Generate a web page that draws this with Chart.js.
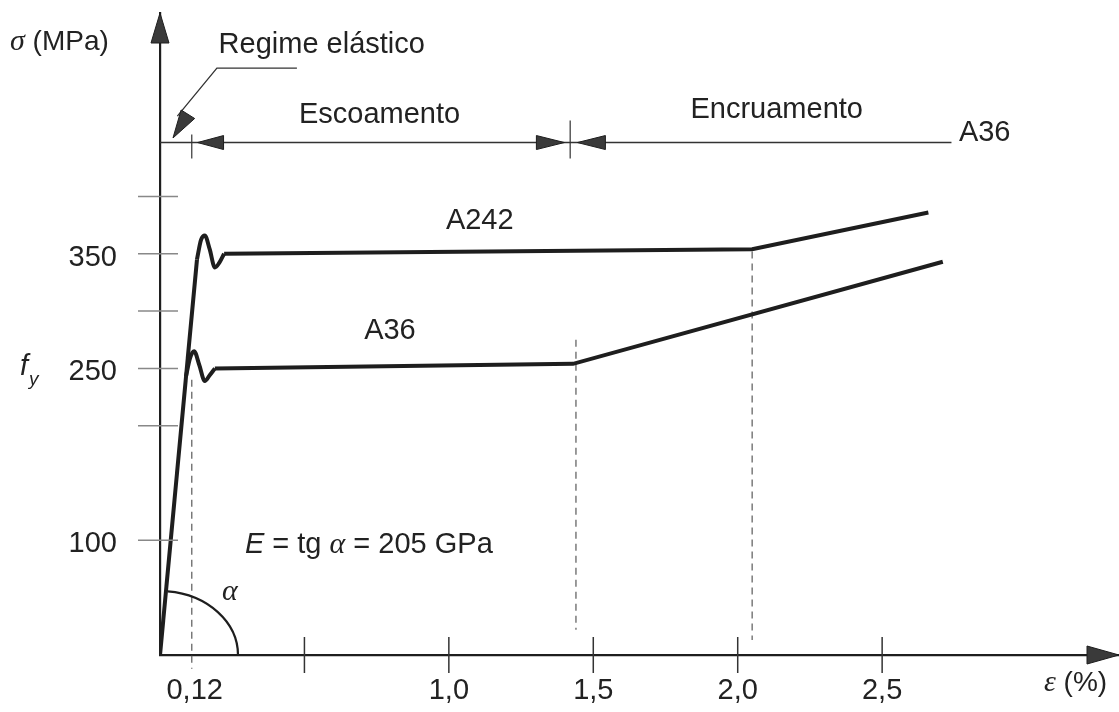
<!DOCTYPE html>
<html>
<head>
  <meta charset="utf-8">
  <title>Diagrama tensão-deformação A36 / A242</title>
  <script src="https://cdn.jsdelivr.net/npm/chart.js"></script>
  <style>
    body { margin: 0; background: #fff; }
  </style>
</head>
<body>
  <canvas id="grafico" width="1119" height="712"></canvas>

  <script>
    // valores (deformação em %, tensão em MPa)
    const elasticoX = [0, 0.128];
    const elasticoY = [0, 345];

    const picoA242X = [0.128, 0.142, 0.155, 0.172, 0.19, 0.205, 0.222];
    const picoA242Y = [345, 362, 366, 354, 338, 342, 350];
    const a242X = [0.222, 2.05, 2.66];
    const a242Y = [350, 354, 386];

    const picoA36X = [0.09, 0.104, 0.118, 0.136, 0.155, 0.172, 0.19];
    const picoA36Y = [243, 259, 265, 253, 239, 244, 250];
    const a36X = [0.19, 1.43, 2.71];
    const a36Y = [250, 254, 343];

    // linhas tracejadas de referência
    const tracejadoX = [0.11, 1.44, 2.05];
    const tracejadoTopo = [240, 275, 352];
    const tracejadoBase = [-12, 22, 13];

    const xTicks = [0.12, 0.5, 1.0, 1.5, 2.0, 2.5];
    const xRotulos = ['0,12', '', '1,0', '1,5', '2,0', '2,5'];
    const yTicks = [100, 200, 250, 300, 350, 400];
    const yRotulos = ['100', '', '250', '', '350', ''];

    const pontos = (xs, ys) => xs.map((v, i) => ({ x: v, y: ys[i] }));
    const FONTE = '"Liberation Sans", Arial, sans-serif';
    const SERIF = '"Liberation Serif", "Times New Roman", serif';
    const COR = '#222';
    const TAM = 29;

    const curva = (label, xs, ys, monotone) => ({
      label: label,
      data: pontos(xs, ys),
      showLine: true,
      borderColor: '#1e1e1e',
      borderWidth: 4,
      pointRadius: 0,
      cubicInterpolationMode: monotone ? 'monotone' : 'default',
      tension: 0
    });

    const datasets = [
      curva('Regime elástico', elasticoX, elasticoY, false),
      curva('A242 pico', picoA242X, picoA242Y, true),
      curva('A242', a242X, a242Y, false),
      curva('A36 pico', picoA36X, picoA36Y, true),
      curva('A36', a36X, a36Y, false)
    ];
    tracejadoX.forEach((v, i) => {
      datasets.push({
        label: 'tracejado ' + i,
        data: [{ x: v, y: tracejadoTopo[i] }, { x: v, y: tracejadoBase[i] }],
        showLine: true,
        borderColor: '#666',
        borderWidth: 1.3,
        borderDash: [7, 5],
        pointRadius: 0,
        clip: false
      });
    });

    function seta(ctx, x0, y0, x1, y1, comp, meia) {
      // triângulo cheio com ponta em (x1, y1), vindo de (x0, y0)
      const a = Math.atan2(y1 - y0, x1 - x0);
      const bx = x1 - comp * Math.cos(a), by = y1 - comp * Math.sin(a);
      ctx.beginPath();
      ctx.moveTo(x1, y1);
      ctx.lineTo(bx + meia * Math.sin(a), by - meia * Math.cos(a));
      ctx.lineTo(bx - meia * Math.sin(a), by + meia * Math.cos(a));
      ctx.closePath();
      ctx.fillStyle = '#3a3a3a';
      ctx.fill();
      ctx.strokeStyle = '#1e1e1e';
      ctx.lineWidth = 1;
      ctx.stroke();
    }

    const anotacoes = {
      id: 'anotacoes',
      afterDraw(chart) {
        const ctx = chart.ctx;
        const sx = chart.scales.x, sy = chart.scales.y;
        const px = v => sx.getPixelForValue(v);
        const py = v => sy.getPixelForValue(v);
        const area = chart.chartArea;
        ctx.save();

        // setas dos eixos
        seta(ctx, area.left, area.bottom, area.left, area.top, 30, 9);
        seta(ctx, area.left, area.bottom, area.right, area.bottom, 32, 9);

        // marcas dos eixos
        ctx.strokeStyle = '#888';
        ctx.lineWidth = 1.5;
        yTicks.forEach(v => {
          ctx.beginPath();
          ctx.moveTo(area.left - 22, py(v));
          ctx.lineTo(area.left + 18, py(v));
          ctx.stroke();
        });
        ctx.strokeStyle = '#333';
        xTicks.slice(1).forEach(v => {
          ctx.beginPath();
          ctx.moveTo(px(v), area.bottom - 18);
          ctx.lineTo(px(v), area.bottom + 18);
          ctx.stroke();
        });

        // cota superior (escoamento / encruamento)
        const yc = py(447);
        ctx.strokeStyle = '#333';
        ctx.lineWidth = 1.6;
        ctx.beginPath();
        ctx.moveTo(area.left, yc);
        ctx.lineTo(px(2.74), yc);
        ctx.stroke();
        ctx.lineWidth = 1.2;
        ctx.beginPath();
        ctx.moveTo(px(0.11), yc - 8); ctx.lineTo(px(0.11), yc + 16);
        ctx.moveTo(px(1.42), yc - 22); ctx.lineTo(px(1.42), yc + 16);
        ctx.stroke();
        seta(ctx, px(0.5), yc, px(0.13), yc, 26, 7);
        seta(ctx, px(1.0), yc, px(1.40), yc, 28, 7);
        seta(ctx, px(2.0), yc, px(1.445), yc, 28, 7);

        // chamada do regime elástico
        ctx.strokeStyle = '#333';
        ctx.lineWidth = 1.3;
        ctx.beginPath();
        ctx.moveTo(px(0.474), py(512));
        ctx.lineTo(px(0.197), py(512));
        ctx.lineTo(px(0.06), py(470));
        ctx.stroke();
        seta(ctx, px(0.197), py(512), px(0.045), py(451), 28, 8);

        // arco do ângulo alfa
        ctx.strokeStyle = '#1e1e1e';
        ctx.lineWidth = 2.2;
        ctx.beginPath();
        ctx.ellipse(px(0), py(0), 78, 64, 0, -Math.PI / 2 + 0.1, 0);
        ctx.stroke();

        // textos
        ctx.fillStyle = COR;
        ctx.textBaseline = 'middle';
        ctx.textAlign = 'center';
        ctx.font = TAM + 'px ' + FONTE;
        ctx.fillText('Regime elástico', px(0.56), py(532));
        ctx.fillText('Escoamento', px(0.76), py(471));
        ctx.fillText('Encruamento', px(2.135), py(475));
        ctx.fillText('A36', px(2.855), py(455));
        ctx.fillText('A242', px(1.107), py(379));
        ctx.fillText('A36', px(0.796), py(283));

        // E = tg α = 205 GPa
        ctx.textAlign = 'left';
        let xt = px(0.294);
        const yt = py(96);
        ctx.font = 'italic ' + TAM + 'px ' + FONTE;
        ctx.fillText('E', xt, yt);
        xt += ctx.measureText('E').width;
        ctx.font = TAM + 'px ' + FONTE;
        ctx.fillText(' = tg ', xt, yt);
        xt += ctx.measureText(' = tg ').width;
        ctx.font = 'italic 30px ' + SERIF;
        ctx.fillText('α', xt, yt);
        xt += ctx.measureText('α').width;
        ctx.font = TAM + 'px ' + FONTE;
        ctx.fillText(' = 205 GPa', xt, yt);

        ctx.textAlign = 'center';
        ctx.font = 'italic 30px ' + SERIF;
        ctx.fillText('α', px(0.242), py(55));

        // título do eixo y
        ctx.textAlign = 'left';
        ctx.font = 'italic 30px ' + SERIF;
        ctx.fillText('σ', 10, 42);
        const xs = 10 + ctx.measureText('σ').width;
        ctx.font = '28px ' + FONTE;
        ctx.fillText(' (MPa)', xs, 42);

        // f_y
        ctx.font = 'italic ' + TAM + 'px ' + FONTE;
        ctx.fillText('f', 20, 367);
        ctx.font = 'italic 19px ' + FONTE;
        ctx.fillText('y', 29, 380);

        // título do eixo x
        ctx.font = 'italic 30px ' + SERIF;
        ctx.fillText('ε', 1044, 683);
        const xe = 1044 + ctx.measureText('ε').width;
        ctx.font = '28px ' + FONTE;
        ctx.fillText(' (%)', xe, 683);

        ctx.restore();
      }
    };

    new Chart(document.getElementById('grafico'), {
      type: 'scatter',
      data: { datasets: datasets },
      options: {
        responsive: false,
        animation: false,
        layout: { padding: { top: 13, right: 0, left: 0, bottom: 0 } },
        plugins: {
          legend: { display: false },
          tooltip: { enabled: false }
        },
        scales: {
          x: {
            type: 'linear',
            min: 0,
            max: 3.32,
            afterFit: s => {
              s.height = 57;
              s.paddingLeft = 0; s.paddingRight = 0;
            },
            afterBuildTicks: s => { s.ticks = xTicks.map(v => ({ value: v })); },
            grid: { display: false, drawTicks: false },
            border: { color: '#1e1e1e', width: 2.2 },
            ticks: {
              autoSkip: false,
              maxRotation: 0,
              padding: 19,
              color: COR,
              font: { family: FONTE, size: TAM },
              callback: (v, i) => xRotulos[i]
            }
          },
          y: {
            type: 'linear',
            min: 0,
            max: 560,
            afterFit: s => {
              s.width = 160;
              s.paddingTop = 0; s.paddingBottom = 0;
            },
            afterBuildTicks: s => { s.ticks = yTicks.map(v => ({ value: v })); },
            grid: { display: false, drawTicks: false },
            border: { color: '#1e1e1e', width: 2.2 },
            ticks: {
              autoSkip: false,
              padding: 43,
              labelOffset: 4,
              color: COR,
              font: { family: FONTE, size: TAM },
              callback: (v, i) => yRotulos[i]
            }
          }
        }
      },
      plugins: [anotacoes]
    });
  </script>
</body>
</html>
